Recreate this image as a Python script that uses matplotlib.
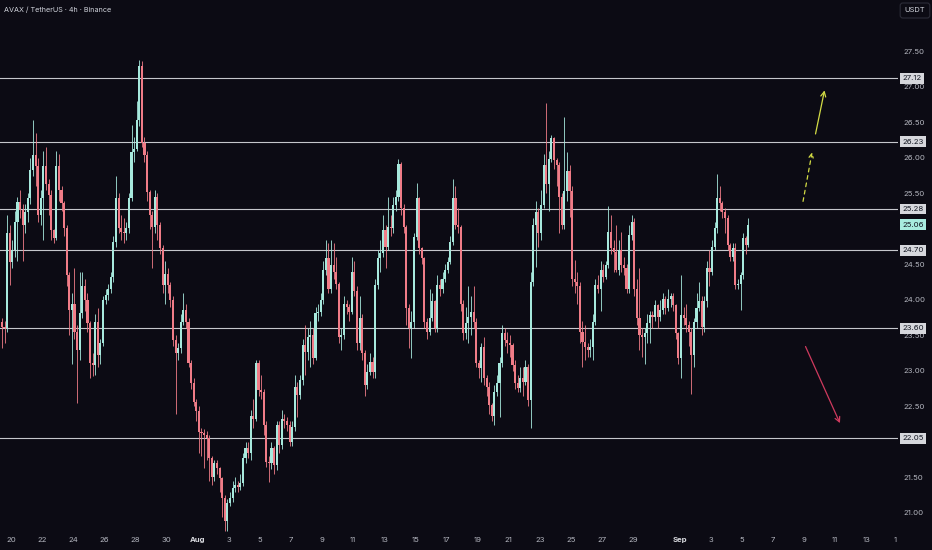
import numpy as np
import matplotlib.pyplot as plt

plt.rcParams['font.family'] = ['Inter', 'DejaVu Sans']

# ---- data: AVAX/USDT 4h candles, Jul 19 08:00 -> Sep 5 ----
first_open = 23.69

closes = [
    # Jul 19 - Jul 27
    23.62, 23.60, 24.94, 24.54, 24.70, 25.10, 25.38, 25.27, 25.06, 25.24,
    25.43, 25.83, 26.04, 25.88, 25.20, 25.43, 25.88, 25.64, 25.48, 24.98,
    24.87, 25.88, 25.55, 25.36, 25.01, 24.35, 23.86, 23.95, 23.55, 23.30,
    23.81, 24.19, 24.00, 23.67, 23.11, 23.08, 23.69, 23.22, 23.39, 24.00,
    24.07, 24.16, 24.33, 24.82, 25.43, 25.01, 24.96, 24.94,
    # Jul 27 - Aug 4
    25.01, 25.43, 26.09, 26.13, 26.53, 27.29, 26.21, 26.04, 25.52, 25.20,
    25.03, 25.45, 25.06, 24.73, 24.21, 24.37, 24.21, 24.00, 23.44, 23.25,
    23.32, 23.69, 23.86, 23.69, 23.11, 22.83, 22.57, 22.43, 22.14, 22.12,
    22.10, 22.05, 21.77, 21.51, 21.70, 21.63, 21.49, 21.21, 20.88, 21.14,
    21.21, 21.35, 21.39, 21.37, 21.42, 21.77, 21.91, 21.84,
    # Aug 4 - Aug 12
    22.36, 22.33, 23.11, 22.73, 22.71, 22.24, 21.72, 21.70, 21.91, 21.68,
    22.24, 21.96, 22.33, 22.29, 22.24, 22.00, 22.21, 22.78, 22.66, 22.87,
    23.37, 23.27, 23.48, 23.51, 23.18, 23.81, 23.83, 24.00, 24.42, 24.59,
    24.16, 24.49, 24.40, 24.23, 23.48, 23.51, 23.95, 23.90, 23.83, 24.40,
    24.12, 23.39, 23.74, 23.25, 22.80, 22.99, 23.13, 22.99,
    # Aug 12 - Aug 20
    24.21, 24.59, 24.66, 24.98, 24.75, 25.03, 25.01, 25.34, 25.45, 25.92,
    25.29, 25.03, 23.88, 23.60, 23.69, 24.89, 25.43, 24.73, 24.59, 23.69,
    23.55, 23.74, 23.98, 23.60, 24.21, 24.16, 24.30, 24.42, 24.54, 24.82,
    25.43, 25.06, 25.03, 23.95, 23.53, 23.67, 23.76, 23.83, 23.69, 23.11,
    23.04, 23.34, 22.90, 22.78, 22.52, 22.36, 22.71, 22.83,
    # Aug 20 - Aug 28
    23.11, 23.53, 23.44, 23.39, 23.37, 23.08, 22.83, 22.76, 22.90, 22.85,
    23.06, 22.59, 24.26, 25.06, 25.24, 24.94, 25.34, 25.90, 25.64, 25.99,
    26.28, 25.97, 25.90, 25.45, 25.06, 25.53, 25.81, 25.53, 24.30, 24.26,
    24.19, 23.55, 23.41, 23.34, 23.29, 23.34, 23.69, 24.21, 24.16, 24.42,
    24.33, 24.49, 24.96, 24.73, 24.68, 24.42, 24.70, 24.49,
    # Aug 28 - Sep 5
    24.45, 24.16, 24.92, 25.10, 24.16, 23.74, 23.51, 23.48, 23.53, 23.67,
    23.79, 23.76, 23.93, 23.76, 23.86, 24.02, 23.88, 24.02, 24.05, 23.93,
    23.53, 23.18, 23.79, 23.74, 23.65, 23.55, 23.22, 23.69, 23.88, 23.98,
    23.62, 23.98, 24.45, 24.40, 24.75, 25.01, 25.43, 25.36, 25.24, 25.15,
    24.77, 24.61, 24.73, 24.21, 24.23, 24.35, 24.87, 24.77, 25.06,
]

highs = [
    23.75, 23.70, 25.20, 25.05, 24.85, 25.25, 25.45, 25.55, 25.35, 25.35,
    25.50, 26.00, 26.53, 26.35, 26.00, 25.55, 26.10, 26.15, 25.70, 25.55,
    25.00, 26.10, 26.05, 25.60, 25.40, 25.05, 24.40, 24.10, 24.45, 23.65,
    24.40, 24.40, 24.30, 24.10, 23.70, 23.25, 23.80, 23.88, 23.45, 24.05,
    24.15, 24.22, 24.40, 24.90, 25.75, 25.50, 25.20, 25.15,

    25.10, 25.50, 26.46, 26.30, 26.80, 27.38, 27.36, 26.30, 26.10, 25.55,
    25.25, 25.55, 25.50, 25.10, 24.78, 24.55, 24.45, 24.25, 24.05, 23.50,
    23.40, 23.80, 24.10, 23.95, 23.75, 23.15, 22.90, 22.60, 22.50, 22.20,
    22.18, 22.15, 22.10, 21.80, 21.75, 21.75, 21.65, 21.50, 21.25, 21.20,
    21.30, 21.45, 21.50, 21.45, 21.55, 21.85, 22.00, 22.00,

    22.45, 22.61, 23.15, 23.15, 22.95, 22.75, 22.30, 21.80, 22.00, 21.95,
    22.30, 22.30, 22.45, 22.40, 22.35, 22.30, 22.30, 22.95, 22.85, 22.95,
    23.45, 23.65, 23.60, 23.70, 23.60, 23.90, 23.95, 24.10, 24.55, 24.85,
    24.80, 24.85, 24.80, 24.60, 24.25, 23.60, 24.05, 24.00, 23.95, 24.60,
    24.55, 24.20, 24.05, 23.80, 23.30, 23.10, 23.25, 23.20,

    24.30, 24.70, 24.85, 25.20, 25.05, 25.45, 25.20, 25.45, 25.55, 25.98,
    25.95, 25.35, 25.05, 23.95, 23.85, 24.95, 25.65, 25.45, 24.75, 24.60,
    23.75, 24.15, 24.10, 24.00, 24.35, 24.30, 24.40, 24.50, 24.60, 24.90,
    25.70, 25.60, 25.30, 25.05, 24.00, 23.90, 24.20, 24.05, 24.20, 23.75,
    23.15, 23.40, 23.48, 22.95, 22.85, 22.55, 22.80, 22.95,

    23.20, 23.65, 23.60, 23.55, 23.50, 23.40, 23.15, 22.95, 23.05, 23.05,
    23.15, 23.10, 24.40, 25.15, 25.40, 25.30, 25.55, 26.05, 26.77, 26.10,
    26.32, 26.30, 26.00, 25.95, 25.50, 26.58, 26.09, 25.90, 25.60, 24.56,
    24.40, 24.25, 23.70, 23.65, 23.40, 23.45, 23.80, 24.30, 24.35, 24.55,
    24.50, 24.55, 25.32, 25.20, 24.85, 25.05, 24.85, 24.96,

    24.60, 24.50, 25.05, 25.20, 25.15, 24.30, 24.45, 23.60, 23.60, 23.80,
    23.85, 23.85, 24.00, 23.95, 24.00, 24.10, 24.05, 24.15, 24.10, 24.10,
    23.95, 23.55, 24.35, 23.90, 23.95, 23.70, 23.60, 23.75, 24.10, 24.25,
    24.05, 24.05, 24.55, 24.70, 24.85, 25.10, 25.77, 25.60, 25.40, 25.30,
    25.20, 24.80, 24.80, 24.80, 24.30, 24.40, 24.95, 24.90, 25.15,
]

lows = [
    23.33, 23.40, 23.55, 24.21, 24.45, 24.60, 24.55, 25.15, 24.55, 24.95,
    25.10, 25.35, 25.75, 25.60, 25.10, 25.05, 24.85, 25.55, 25.20, 24.85,
    24.80, 24.85, 25.40, 25.25, 24.90, 24.20, 23.50, 23.10, 23.45, 22.55,
    23.15, 23.75, 23.85, 23.55, 22.90, 22.93, 22.95, 23.05, 23.10, 23.35,
    23.95, 24.00, 24.10, 24.25, 24.75, 24.95, 24.85, 24.80,

    24.85, 24.95, 25.40, 25.95, 26.10, 26.45, 26.15, 25.95, 25.40, 25.00,
    24.45, 24.95, 24.85, 24.65, 24.10, 23.95, 24.10, 23.90, 23.35, 22.40,
    23.15, 23.25, 23.65, 23.60, 23.05, 22.75, 22.50, 22.30, 21.85, 21.80,
    21.63, 21.75, 21.45, 21.40, 21.45, 21.55, 21.30, 20.95, 20.75, 20.74,
    21.10, 21.15, 21.30, 21.30, 21.32, 21.38, 21.70, 21.78,

    21.75, 22.20, 22.30, 22.65, 22.60, 22.10, 21.65, 21.44, 21.62, 21.55,
    21.60, 21.85, 21.90, 22.20, 22.15, 21.95, 21.95, 22.15, 22.35, 22.60,
    22.80, 22.95, 23.15, 23.05, 23.10, 23.15, 23.70, 23.78, 23.95, 24.35,
    24.10, 24.10, 24.30, 24.15, 23.40, 23.30, 23.45, 23.80, 23.70, 23.80,
    24.05, 23.30, 23.30, 23.15, 22.65, 22.75, 22.95, 22.90,

    22.90, 24.15, 24.40, 24.60, 24.45, 24.70, 24.90, 24.95, 25.25, 25.40,
    25.20, 24.95, 23.65, 23.32, 23.18, 23.60, 24.85, 24.65, 24.50, 23.60,
    23.45, 23.50, 23.70, 23.55, 23.55, 24.05, 24.10, 24.25, 24.38, 24.50,
    24.78, 25.00, 24.95, 23.85, 23.44, 23.45, 23.40, 23.50, 23.60, 23.05,
    22.90, 22.85, 22.80, 22.65, 22.40, 22.30, 22.24, 22.65,

    22.35, 23.05, 23.35, 23.25, 23.20, 23.00, 22.75, 22.70, 22.70, 22.65,
    22.80, 22.50, 22.19, 24.20, 24.47, 24.75, 24.85, 25.30, 25.50, 25.25,
    25.95, 25.85, 25.60, 24.95, 25.00, 25.00, 25.40, 25.17, 24.20, 24.10,
    23.95, 23.40, 23.05, 23.15, 23.20, 23.20, 23.15, 23.65, 24.10, 23.85,
    24.25, 24.30, 24.45, 24.65, 24.40, 24.40, 24.35, 24.40,

    24.35, 24.10, 24.10, 24.85, 24.05, 23.65, 23.30, 23.20, 23.10, 23.40,
    23.40, 23.60, 23.70, 23.60, 23.70, 23.80, 23.80, 23.85, 23.90, 23.85,
    23.45, 23.10, 22.90, 23.65, 23.55, 23.35, 22.67, 23.05, 23.60, 23.85,
    23.50, 23.55, 23.90, 24.20, 24.35, 24.70, 24.95, 25.25, 25.15, 24.95,
    24.70, 24.55, 24.55, 24.15, 24.15, 23.86, 24.30, 24.65, 24.75,
]

levels = [27.12, 26.23, 25.28, 24.70, 23.60, 22.05]
last_price = 25.06
# 22.00 and 25.00 sit under the level / price badges, so they are left out
price_ticks = [21.0, 21.5, 22.5, 23.0, 23.5, 24.0, 24.5, 25.5,
               26.0, 26.5, 27.0, 27.5]

# date axis, in days from Jul 20 00:00
date_labels = ['20', '22', '24', '26', '28', '30', 'Aug', '3', '5', '7', '9',
               '11', '13', '15', '17', '19', '21', '23', '25', '27', '29',
               'Sep', '3', '5', '7', '9', '11', '13', '1']
date_days = [0, 2, 4, 6, 8, 10, 12, 14, 16, 18, 20, 22, 24, 26, 28, 30, 32,
             34, 36, 38, 40, 43, 45, 47, 49, 51, 53, 55, 56.85]

# drawn projections (start day, start price, end day, end price)
up_solid = (51.70, 26.30, 52.35, 26.99)
up_dashed = (50.90, 25.35, 51.55, 26.12)
down_arrow = (51.02, 23.38, 53.38, 22.23)

# ---- colours ----
bg = '#0c0b14'
up_col = '#a7e9dd'
dn_col = '#f07c87'
txt_col = '#b4b6bf'
lvl_col = '#c6c7cc'
fs = 5.6

c = np.array(closes)
o = np.concatenate([[first_open], c[:-1]])
h = np.maximum(np.array(highs), np.maximum(o, c))
l = np.minimum(np.array(lows), np.minimum(o, c))
t = (-16 + 2 + 4 * np.arange(len(c))) / 24.0  # candle centres, days from Jul 20
up = c >= o
cols = np.where(up, up_col, dn_col)

fig = plt.figure(figsize=(9.32, 5.5), dpi=100, facecolor=bg)
ax = fig.add_axes([0, 17 / 550, 898 / 932, 533 / 550])
ax.set_facecolor(bg)

# wicks and bodies
ax.vlines(t, l, h, colors=cols, lw=0.6, zorder=4)
body_h = np.maximum(np.abs(c - o), 0.012)
ax.bar(t, body_h, bottom=np.minimum(o, c), width=0.135, color=cols,
       linewidth=0, zorder=5)

# horizontal levels
for lv in levels:
    ax.axhline(lv, color=lvl_col, lw=0.8, zorder=3)
    ax.text(1.005, lv, f'{lv:.2f}', transform=ax.get_yaxis_transform(),
            ha='left', va='center', fontsize=fs, color='#131722',
            clip_on=False, zorder=6,
            bbox=dict(boxstyle='square,pad=0.3', fc='#d6d7dc', ec='none'))
ax.text(1.005, last_price, f'{last_price:.2f}', transform=ax.get_yaxis_transform(),
        ha='left', va='center', fontsize=fs, color='#131722', clip_on=False,
        zorder=7, bbox=dict(boxstyle='square,pad=0.3', fc='#a8ecdf', ec='none'))

# projection arrows
ax.annotate('', xy=up_solid[2:], xytext=up_solid[:2],
            arrowprops=dict(arrowstyle='->,head_length=0.35,head_width=0.18',
                            color='#d3dc45', lw=0.9), zorder=6)
ax.annotate('', xy=up_dashed[2:], xytext=up_dashed[:2],
            arrowprops=dict(arrowstyle='->,head_length=0.3,head_width=0.15',
                            color='#d3dc45', lw=0.9, linestyle=(0, (3, 3))),
            zorder=6)
ax.annotate('', xy=down_arrow[2:], xytext=down_arrow[:2],
            arrowprops=dict(arrowstyle='->,head_length=0.35,head_width=0.18',
                            color='#cf3a5e', lw=0.9), zorder=6)

ax.set_xlim(-0.707, 57.04)
ax.set_ylim(20.718, 28.225)

for s in ax.spines.values():
    s.set_visible(False)

ax.yaxis.tick_right()
ax.set_yticks(price_ticks)
ax.set_yticklabels([f'{p:.2f}' for p in price_ticks])
ax.tick_params(axis='y', length=0, pad=4.2, labelsize=fs, labelcolor=txt_col)

ax.set_xticks(date_days)
ax.set_xticklabels(date_labels)
ax.tick_params(axis='x', length=0, pad=3.2, labelsize=fs, labelcolor=txt_col)
for lab in ax.get_xticklabels():
    if lab.get_text() in ('Aug', 'Sep'):
        lab.set_fontweight('bold')
        lab.set_color('#d8d9de')

# header text and currency badge
fig.text(4 / 932, 1 - 10 / 550, 'AVAX / TetherUS · 4h · Binance',
         fontsize=5.2, color='#d1d4dc', va='center', ha='left')
fig.text(915 / 932, 1 - 10.5 / 550, 'USDT', fontsize=5.4, color='#d1d4dc',
         ha='center', va='center',
         bbox=dict(boxstyle='round,pad=0.6,rounding_size=0.35', fc=bg,
                   ec='#2c2c38', lw=0.8))

plt.savefig('out.png', dpi=100, facecolor=bg)
